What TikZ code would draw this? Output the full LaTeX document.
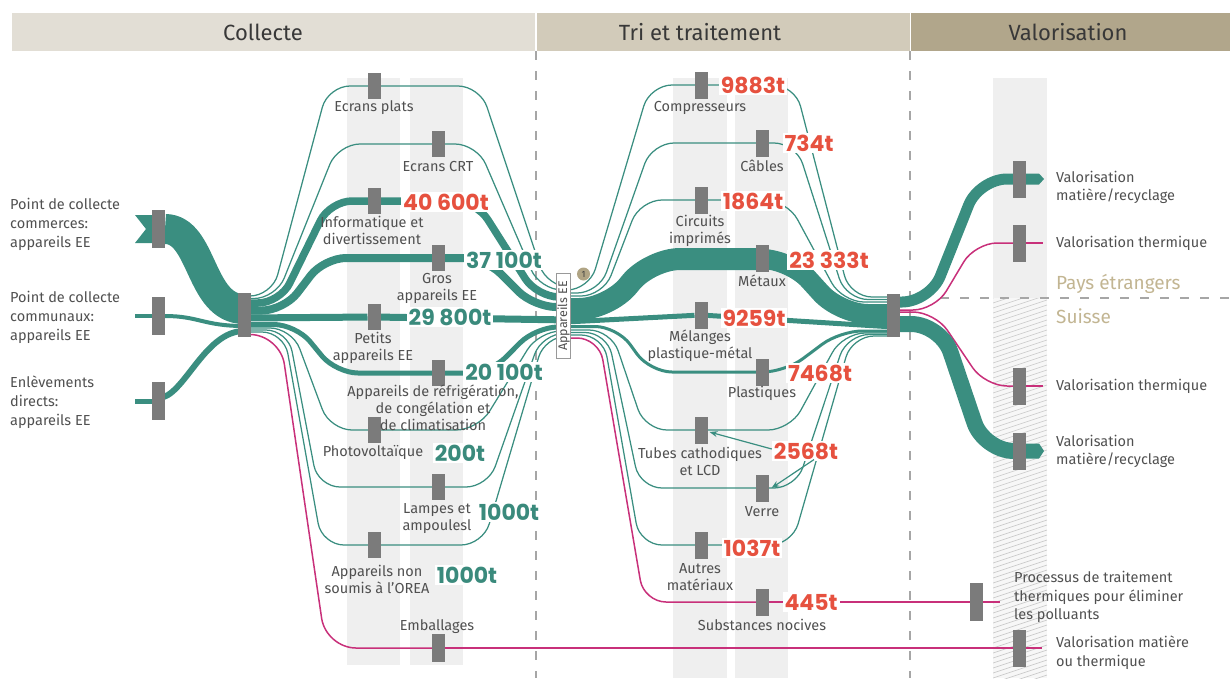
\documentclass[tikz,border=0pt]{standalone}
\usepackage{fontspec}
\setmainfont{Fira Sans}
\newfontfamily\numfont{Poppins}
\usetikzlibrary{calc,arrows.meta}
\pgfdeclarelayer{bg}
\pgfdeclarelayer{fl}
\pgfsetlayers{bg,fl,main}
\definecolor{tl}{HTML}{3A8E80}
\definecolor{mg}{HTML}{C8307A}
\definecolor{barc}{HTML}{7B7B7B}
\definecolor{txt}{HTML}{505050}
\definecolor{redn}{HTML}{E6513F}
\definecolor{tln}{HTML}{3A8A7C}
\definecolor{hA}{HTML}{E2DED5}
\definecolor{hB}{HTML}{D2CBBA}
\definecolor{hC}{HTML}{B1A68B}
\definecolor{strip}{HTML}{EFEFEF}
\definecolor{tanc}{HTML}{C2B592}
\definecolor{badge}{HTML}{B0A484}
\newcommand\flw[7][]{\draw[flow,#1] ($(#2)+(0,#3)$) -- ++(#6,0) -- ($(#4)+(-#7,#5)$) -- ($(#4)+(0,#5)$);}
\begin{document}
\begin{tikzpicture}[x=1pt,y=-1pt,
 bar/.style={fill=barc, minimum width=13pt, minimum height=27pt, inner sep=0pt, outer sep=0pt},
 flow/.style={tl, line width=1.25pt, rounded corners=22pt},
 mflow/.style={mg, line width=1.5pt, rounded corners=22pt},
 lab/.style={text=txt, font=\fontsize{14.5}{17}\selectfont, align=center, inner sep=0pt},
 vlab/.style={text=txt, font=\fontsize{14.5}{18.5}\selectfont, align=left, inner sep=0pt, anchor=west},
 rnum/.style={text=redn, fill=white, font=\numfont\bfseries\fontsize{22}{24}\selectfont, inner sep=2pt},
 tnum/.style={rnum, text=tln},
 head/.style={text=black!78, font=\fontsize{22}{24}\selectfont},
 dashline/.style={black!35, line width=1.1pt, dash pattern=on 9pt off 11pt},
 arr/.style={tl, line width=1.2pt, -{Stealth[length=8pt,width=6pt]}}
]
\useasboundingbox (0,0) rectangle (1230,678);

% ---------- backgrounds ----------
\begin{pgfonlayer}{bg}
\fill[hA] (12,13) rectangle (535,51);
\fill[hB] (537,13) rectangle (910,51);
\fill[hC] (911,13) rectangle (1230,51);
\fill[strip] (347,78) rectangle (400,665);
\fill[strip] (410,78) rectangle (463,665);
\fill[strip] (673,78) rectangle (727,678);
\fill[strip] (735,78) rectangle (788,678);
\fill[strip] (993,78) rectangle (1047,298);
\begin{scope}
\clip (993,298) rectangle (1047,678);
\fill[black!3] (993,298) rectangle (1047,678);
\foreach \i in {0,5,...,420} \draw[black!22, line width=0.6pt] (993,298+\i) -- (1047,280+\i);
\end{scope}
\draw[dashline] (536,51) -- (536,678);
\draw[dashline] (910,51) -- (910,678);
\draw[dashline] (940,298) -- (1230,298);
\end{pgfonlayer}

\node[head] (h1) at (263,32) {Collecte};
\node[head] (h2) at (700,32) {Tri et traitement};
\node[head] (h3) at (1068,32) {Valorisation};

% ---------- bars ----------
\node[bar, minimum height=38pt] (s1) at (158.5,229) {};
\node[bar, minimum height=38pt] (s2) at (158.5,316) {};
\node[bar, minimum height=38pt] (s3) at (158.5,401) {};
\node[bar, minimum height=44pt] (C) at (244,315) {};
\node[bar, minimum height=26pt] (k1) at (374,86) {};
\node[bar, minimum height=26pt] (k2) at (438,144) {};
\node[bar, minimum height=26pt] (k3) at (374,201) {};
\node[bar, minimum height=26pt] (k4) at (438,258) {};
\node[bar, minimum height=26pt] (k5) at (374,317) {};
\node[bar, minimum height=26pt] (k6) at (438,373) {};
\node[bar, minimum height=26pt] (k7) at (374,430) {};
\node[bar, minimum height=26pt] (k8) at (438,487) {};
\node[bar, minimum height=26pt] (k9) at (374,545) {};
\node[bar, minimum height=28pt] (k10) at (438,648) {};
\node[draw=black!40, fill=white, line width=0.8pt, minimum width=14pt, minimum height=85pt, inner sep=0pt] (A) at (563.5,316) {};
\node[rotate=90, text=txt, font=\fontsize{12.5}{13}\selectfont, inner sep=0pt] (At) at (A) {Appareils EE};
\node[circle, fill=badge, minimum size=13pt, inner sep=0pt, text=black!75, font=\fontsize{9}{9}\selectfont] (bd) at (583.5,274) {1};
\node[bar] (t1) at (701,85) {};
\node[bar] (t2) at (762,143) {};
\node[bar] (t3) at (701,200) {};
\node[bar] (t4) at (762,258) {};
\node[bar] (t5) at (701,315) {};
\node[bar] (t6) at (762,372) {};
\node[bar] (t7) at (701,430) {};
\node[bar] (t8) at (762,488) {};
\node[bar] (t9) at (701,545) {};
\node[bar] (t10) at (762,602) {};
\node[bar, minimum height=43pt] (R) at (893.5,315) {};
\node[bar, minimum height=37pt] (v1) at (1019.5,179) {};
\node[bar, minimum height=37pt] (v2) at (1019.5,243) {};
\node[bar, minimum height=37pt] (v3) at (1019.5,386) {};
\node[bar, minimum height=37pt] (v4) at (1019.5,451) {};
\node[bar, minimum height=38pt] (v5) at (976.5,602) {};
\node[bar, minimum height=37pt] (v6) at (1019.5,648) {};
\coordinate (in2) at (135,316);
\coordinate (in3) at (135,401);
\coordinate (o2) at (1043,243);
\coordinate (o3) at (1043,386);
\coordinate (o5) at (1000,602);
\coordinate (o6) at (1042,648);

% ---------- flows ----------
\begin{pgfonlayer}{fl}
\fill[tl] ($(s1.west)+(-17,-14)$) -- ++(17,0) -- ++(0,28) -- ++(-17,0) -- ++(11,-14) -- cycle;
\draw[tl, line width=30pt] (s1) .. controls +(45,0) and +(-45,0) .. ($(C)+(0,-6)$);
\draw[tl, line width=4pt] (in2) -- (s2);
\draw[tl, line width=4pt] (s2) .. controls +(40,0) and +(-40,0) .. ($(C)+(0,11)$);
\draw[tl, line width=5pt] (in3) -- (s3);
\draw[tl, line width=6pt] ($(s3)+(0,-3)$) .. controls +(25,0) and +(-40,0) .. ($(C)+(0,16)$);
% collecte -> categories
\flw{C}{-19}{k1}{0}{28}{46}
\flw{C}{-16.5}{k2}{0}{32}{100}
\flw[line width=7.5pt]{C}{-12}{k3}{0}{36}{44}
\flw[line width=8pt]{C}{-4.5}{k4}{0}{40}{114}
\draw[flow, line width=7pt] ($(C)+(0,3)$) -- (k5);
\flw[line width=5pt]{C}{9.5}{k6}{0}{52}{102}
\flw{C}{13}{k7}{0}{48}{44}
\flw{C}{15}{k8}{0}{44}{120}
\flw{C}{17}{k9}{0}{40}{52}
\flw[mflow, rounded corners=30pt]{C}{19.5}{k10}{0}{36}{112}
% categories -> Appareils EE
\flw{k1}{0}{A.east}{-29}{106}{24}
\flw{k2}{0}{A.east}{-26}{39}{31}
\flw[line width=7.5pt]{k3}{0}{A.east}{-19}{102}{34}
\flw[line width=8pt]{k4}{0}{A.east}{-9}{47}{37}
\draw[flow, line width=7pt] (k5) -- ($(A.east)+(0,4)$);
\flw[line width=5pt]{k6}{0}{A.east}{11}{52}{35}
\flw{k7}{0}{A.east}{15}{104}{32}
\flw{k8}{0}{A.east}{17.5}{50}{29}
\flw{k9}{0}{A.east}{20}{109}{26}
% Appareils EE -> tri
\flw{A.west}{-26}{t1}{0}{33}{51}
\flw{A.west}{-23}{t2}{0}{43}{110}
\flw{A.west}{-20}{t3}{0}{47}{61}
\flw[line width=22pt, rounded corners=30pt]{A.west}{-7}{t4}{1}{53}{112}
\draw[flow, line width=5pt] ($(A.west)+(0,6.5)$) -- (t5);
\flw[line width=3pt]{A.west}{10.5}{t6}{0}{61}{112}
\flw{A.west}{14}{t7}{0}{55}{56}
\flw{A.west}{16.5}{t8}{0}{51}{122}
\flw{A.west}{19}{t9}{0}{47}{61}
\flw[mflow]{A.west}{22}{t10}{0}{43}{118}
% tri -> R
\flw{t1}{0}{R}{-18}{94}{43.5}
\flw{t2}{0}{R}{-15.5}{34}{47.5}
\flw{t3}{0}{R}{-13}{86}{51.5}
\flw[line width=20pt, rounded corners=28pt]{t4}{1}{R}{-1}{28}{53.5}
\draw[flow, line width=5pt] (t5) -- ($(R)+(0,12)$);
\flw[line width=3pt]{t6}{0}{R}{16}{23}{53.5}
\flw{t7}{0}{R}{18}{89}{50.5}
\flw{t8}{0}{R}{19.5}{34}{46.5}
\flw{t9}{0}{R}{21}{91}{41.5}
% R -> valorisation
\flw[line width=11pt, rounded corners=28pt]{R}{-13}{v1}{0}{36.5}{40.5}
\flw[mflow]{R}{-5}{v2}{0}{41.5}{44.5}
\flw[mflow]{R}{-3}{v3}{0}{41.5}{34.5}
\flw[line width=16pt, rounded corners=30pt]{R}{9}{v4}{0}{47.5}{35.5}
\fill[tl] ($(v1.east)+(0,-5.5)$) -- ++(13,0) -- ++(5,5.5) -- ++(-5,5.5) -- ++(-13,0) -- cycle;
\fill[tl] ($(v4.east)+(0,-7.5)$) -- ++(13,0) -- ++(5,7.5) -- ++(-5,7.5) -- ++(-13,0) -- cycle;
\draw[mflow] (v2) -- (o2);
\draw[mflow] (v3) -- (o3);
\draw[mflow] (t10) -- (v5);
\draw[mflow] (v5) -- (o5);
\draw[mflow] (k10) -- (v6);
\draw[mflow] (v6) -- (o6);
\end{pgfonlayer}

% ---------- labels ----------
\node[vlab, font=\fontsize{14.5}{19}\selectfont] (l1) at (10,224) {Point de collecte\\commerces:\\appareils EE};
\node[vlab, font=\fontsize{14.5}{19}\selectfont] (l2) at (10,317) {Point de collecte\\communaux:\\appareils EE};
\node[vlab, font=\fontsize{14.5}{19}\selectfont] (l3) at (10,402) {Enlèvements\\directs:\\appareils EE};

\node[lab] (lk1) at (374,108) {Ecrans plats};
\node[lab] (lk2) at (438,166) {Ecrans CRT};
\node[lab] (lk3) at (372,230.5) {Informatique et\\divertissement};
\node[lab] (lk4) at (437,288.5) {Gros\\appareils EE};
\node[lab] (lk5) at (373,347.5) {Petits\\appareils EE};
\node[lab] (lk6) at (433,408) {Appareils de réfrigération,\\de congélation et\\de climatisation};
\node[lab] (lk7) at (373,452) {Photovoltaïque};
\node[lab] (lk8) at (437,519) {Lampes et\\ampoulesl};
\node[lab] (lk9) at (377,579) {Appareils non\\soumis à l’OREA};
\node[lab] (lk10) at (437,627) {Emballages};

\node[lab] (lt1) at (700,108) {Compresseurs};
\node[lab] (lt2) at (762,166) {Câbles};
\node[lab] (lt3) at (700,230.5) {Circuits\\imprimés};
\node[lab] (lt4) at (762,281) {Métaux};
\node[lab] (lt5) at (700,346) {Mélanges\\plastique-métal};
\node[lab] (lt6) at (762,393) {Plastiques};
\node[lab] (lt7) at (700,461.5) {Tubes cathodiques\\et LCD};
\node[lab] (lt8) at (762,512) {Verre};
\node[lab] (lt9) at (700,577) {Autres\\matériaux};
\node[lab] (lt10) at (762,625) {Substances nocives};

\node[vlab] (lv1) at (1056,187.5) {Valorisation\\matière/recyclage};
\node[vlab] (lv2) at (1056,243) {Valorisation thermique};
\node[vlab] (lv3) at (1056,386) {Valorisation thermique};
\node[vlab] (lv4) at (1056,451.5) {Valorisation\\matière/recyclage};
\node[vlab] (lv5) at (1014,597) {Processus de traitement\\thermiques pour éliminer\\les polluants};
\node[vlab] (lv6) at (1056,652.5) {Valorisation matière\\ou thermique};

\node[anchor=west, text=tanc, inner sep=0pt, font=\fontsize{19}{20}\selectfont] (pe) at (1056,284) {Pays étrangers};
\node[anchor=west, text=tanc, inner sep=0pt, font=\fontsize{19}{20}\selectfont] (su) at (1056,316) {Suisse};

% numbers
\node[rnum] (n1) at (446,202) {40 600t};
\node[tnum] (n2) at (504,260) {37 100t};
\node[tnum] (n3) at (450,317) {29 800t};
\node[tnum] (n4) at (504,372) {20 100t};
\node[tnum] (n5) at (460,453) {200t};
\node[tnum] (n6) at (509,512) {1000t};
\node[tnum] (n7) at (467,575) {1000t};
\node[rnum] (m1) at (753,85) {9883t};
\node[rnum] (m2) at (809,143) {734t};
\node[rnum] (m3) at (753,201) {1864t};
\node[rnum] (m4) at (829,260) {23 333t};
\node[rnum] (m5) at (754,318) {9259t};
\node[rnum] (m6) at (820,373) {7468t};
\node[rnum] (m7) at (806,451) {2568t};
\node[rnum] (m8) at (752,548) {1037t};
\node[rnum] (m9) at (811,602) {445t};
\draw[arr] ($(m7.west)+(0,-2)$) -- ($(t7.east)+(2,2)$);
\draw[arr] ($(m7.south)+(8,-2)$) -- ($(t8.east)+(3,0)$);
\end{tikzpicture}
\end{document}
